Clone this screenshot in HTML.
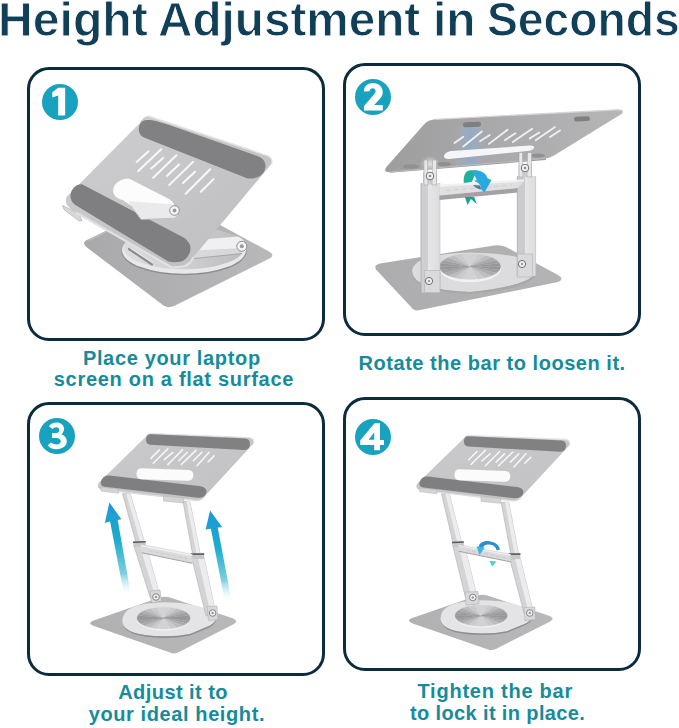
<!DOCTYPE html>
<html><head><meta charset="utf-8">
<style>
html,body{margin:0;padding:0;background:#fff;}
body{width:679px;height:728px;position:relative;overflow:hidden;font-family:"Liberation Sans",sans-serif;}
.title{position:absolute;left:0;top:-4.7px;width:679px;height:50px;white-space:nowrap;font-weight:bold;color:#123f58;font-size:49px;line-height:49px;}
.title span{position:absolute;top:0;transform-origin:0 0;-webkit-text-stroke:0.9px #fff;}
.box{position:absolute;box-sizing:border-box;width:297.9px;height:273.8px;border:3.8px solid #0b2b3e;border-radius:22px;}
.num{position:absolute;width:36px;height:36px;}
.cap{position:absolute;white-space:nowrap;font-weight:bold;color:#168b9c;font-size:20px;line-height:20px;}
.prod{position:absolute;left:0;top:0;}
</style></head><body>
<div class="title" id="title"><span style="left:-2px;transform:scaleX(0.982)">Height</span><span style="left:158.1px;transform:scaleX(0.973)">Adjustment</span><span style="left:433.2px;transform:scaleX(0.976)">in</span><span style="left:486.5px;transform:scaleX(0.944)">Seconds</span></div>

<div class="box" style="left:26.95px;top:67.15px"></div>
<div class="box" style="left:343.1px;top:62.5px"></div>
<div class="box" style="left:27.05px;top:401.9px"></div>
<div class="box" style="left:343.1px;top:397.1px"></div>

<svg class="num" style="left:41.5px;top:84.1px" viewBox="0 0 36 36"><circle cx="18" cy="18" r="18" fill="#18a2bf"/><path d="M16.2,31.5 L23.2,31.5 L23.2,3.8 L16.2,3.8 L10.3,8.2 L10.3,13.5 L16.2,11.4 Z" fill="#fff"/></svg>
<svg class="num" style="left:355.1px;top:78.8px" viewBox="0 0 36 36"><circle cx="18" cy="18" r="18" fill="#18a2bf"/><path d="M9,12.4 L9.3,9.6 C10.5,6 14,3.9 17.9,3.9 C23.5,3.9 27.8,7.8 27.8,13 C27.8,16 26.5,18.3 24.3,20.6 L19.2,26 L27.8,26 L27.8,31.5 L9,31.5 L9,26.9 L18.3,16.3 C19.8,14.6 20.6,13.5 20.6,12 C20.6,10.3 19.4,9.2 17.8,9.2 C16,9.2 14.8,10.4 14.6,12.3 Z" fill="#fff"/></svg>
<svg class="num" style="left:39.4px;top:418.4px" viewBox="0 0 36 36"><circle cx="18" cy="18" r="18" fill="#18a2bf"/><path d="M10,8.2 C11.5,5.8 14.3,4.6 17.6,4.6 C21.8,4.6 25,7.2 25,10.8 C25,13.3 24,15 22.4,16.3 C25.8,17.5 27.8,20 27.8,23.3 C27.8,27.9 23.6,31.2 17.6,31.2 C13.6,31.2 10.4,29.7 8.7,27.2 L12,24.6 C13.4,25.8 15.4,26.4 17.6,26.4 C20.3,26.4 21.8,25.3 21.8,23.3 C21.8,21.2 20,19.9 17.3,19.9 L13,19.9 L13,15 L17.1,15 C19.1,15 20.3,13.9 20.3,12.1 C20.3,10.4 19.1,9.3 17.4,9.3 C15.7,9.3 14.4,10 13.3,11 Z" fill="#fff"/></svg>
<svg class="num" style="left:355.1px;top:418.7px" viewBox="0 0 36 36"><circle cx="18" cy="18" r="18" fill="#18a2bf"/><path fill-rule="evenodd" d="M19.5,4.3 L25,4.3 L25,21 L29,21 L29,26 L25,26 L25,31.2 L19.2,31.2 L19.2,26 L5.25,26 L5.25,21.3 Z M13.6,20.8 L19.2,20.8 L19.2,13.5 Z" fill="#fff"/></svg>

<div class="cap" id="c1a" style="left:82.9px;top:348.3px;letter-spacing:0.66px">Place your laptop</div>
<div class="cap" id="c1b" style="left:53.8px;top:369.4px;letter-spacing:0.70px">screen on a flat surface</div>
<div class="cap" id="c2" style="left:358.6px;top:352.9px;letter-spacing:0.53px">Rotate the bar to loosen it.</div>
<div class="cap" id="c3a" style="left:118.2px;top:682px;letter-spacing:0.44px">Adjust it to</div>
<div class="cap" id="c3b" style="left:88.7px;top:703.6px;letter-spacing:0.6px">your ideal height.</div>
<div class="cap" id="c4a" style="left:417.5px;top:681.2px;letter-spacing:0.76px">Tighten the bar</div>
<div class="cap" id="c4b" style="left:410px;top:703.1px;letter-spacing:0.37px">to lock it in place.</div>

<svg class="prod" width="679" height="728" viewBox="0 0 679 728">
<defs>
<linearGradient id="g1base" x1="0" y1="0" x2="1" y2="0"><stop offset="0" stop-color="#a9a9ab"/><stop offset="1" stop-color="#b8b8ba"/></linearGradient>
<linearGradient id="g1tray" x1="0" y1="0" x2="1" y2="1"><stop offset="0" stop-color="#cfcfd1"/><stop offset="1" stop-color="#bdbdbf"/></linearGradient>
<linearGradient id="g2base" x1="0" y1="0" x2="1" y2="0"><stop offset="0" stop-color="#adadaf"/><stop offset="1" stop-color="#b3b3b5"/></linearGradient>
<linearGradient id="g2tray" x1="0" y1="0" x2="1" y2="0"><stop offset="0" stop-color="#9e9e9f"/><stop offset="0.5" stop-color="#aaaaac"/><stop offset="1" stop-color="#b6b6b7"/></linearGradient>
<radialGradient id="g2glow"><stop offset="0" stop-color="#ececee" stop-opacity="0.9"/><stop offset="1" stop-color="#ececee" stop-opacity="0"/></radialGradient>
<radialGradient id="g2disk" cx="0.5" cy="0.5" r="0.6"><stop offset="0" stop-color="#b4b4b6"/><stop offset="1" stop-color="#a2a2a4"/></radialGradient>
<linearGradient id="g2col" x1="0" y1="0" x2="1" y2="0"><stop offset="0" stop-color="#e6e6e8"/><stop offset="1" stop-color="#dcdcde"/></linearGradient>
<linearGradient id="g2blue" x1="0" y1="0" x2="1" y2="0"><stop offset="0" stop-color="#a4b6cc" stop-opacity="0"/><stop offset="0.5" stop-color="#86acd8" stop-opacity="0.65"/><stop offset="1" stop-color="#a4b6cc" stop-opacity="0"/></linearGradient>
<linearGradient id="g3base" x1="0" y1="0" x2="1" y2="0"><stop offset="0" stop-color="#b1b1b3"/><stop offset="1" stop-color="#b8b8ba"/></linearGradient>
<linearGradient id="g3tray" x1="0" y1="0" x2="1" y2="1"><stop offset="0" stop-color="#cacacc"/><stop offset="1" stop-color="#c2c2c4"/></linearGradient>
<radialGradient id="g3disk" cx="0.5" cy="0.5" r="0.6"><stop offset="0" stop-color="#c4c4c6"/><stop offset="1" stop-color="#a8a8aa"/></radialGradient>
<linearGradient id="g3arrow" x1="0" y1="0" x2="0" y2="1"><stop offset="0" stop-color="#1d98d8"/><stop offset="0.4" stop-color="#1eaccb"/><stop offset="0.75" stop-color="#7ccfdf"/><stop offset="1" stop-color="#ffffff" stop-opacity="0"/></linearGradient>
<filter id="fblur" x="-10%" y="-10%" width="120%" height="120%"><feGaussianBlur stdDeviation="0.7"/></filter>
<clipPath id="clipTray2"><path d="M436,119.3 L617,109.8 Q625,109.5 621.5,114 L554,155.5 Q550,158 545,158.5 L390,172 Q383,172.5 386,167.5 L423.5,125 Q428,119.6 436,119.3 Z"/></clipPath>
<linearGradient id="g1disk" x1="0" y1="0" x2="1" y2="0"><stop offset="0" stop-color="#dcdcde"/><stop offset="0.5" stop-color="#d0d0d2"/><stop offset="1" stop-color="#bcbcbe"/></linearGradient>
</defs>
<g id="img1">
<path d="M88,239.5 L168,201 Q172,199 176,201 L269,251.5 Q275.5,255 269.5,258.5 L174,306 Q168.5,308.5 163.5,305.5 L87,247.5 Q80.5,242.5 88,239.5 Z" fill="url(#g1base)"/>
<path d="M89,240.5 L120,225" stroke="#c4c4c6" stroke-width="1"/>
<ellipse cx="184" cy="251.3" rx="62.5" ry="24" fill="#8e8e90"/>
<ellipse cx="184" cy="250.2" rx="62" ry="23.5" fill="#e8e8ea"/>
<ellipse cx="184" cy="248" rx="60" ry="21.3" fill="url(#g1disk)"/>
<path d="M129,249 L152,264.5" stroke="#8c8c8e" stroke-width="2.2" stroke-linecap="round"/>
<path d="M130,248 L153,263" stroke="#f2f2f2" stroke-width="0.8"/>
<path d="M196,240 L238,236.5 Q246,240.5 246.5,247 Q246,253 240.5,253.5 L194,258.5 Z" fill="#f0f0f2"/>
<path d="M195,250.5 L243,248 L242,253.5 L194,258.5 Z" fill="#d8d8da"/>
<path d="M194,258.5 L242,253.5" stroke="#9a9a9c" stroke-width="0.8"/>
<circle cx="241.8" cy="246.3" r="5" fill="#f6f6f6" stroke="#8e8e90" stroke-width="1"/>
<circle cx="241.8" cy="246.3" r="2" fill="#9a9a9c"/>
<path d="M62.5,205.5 L79,213.5 L82,220.5 L79,221 L64,209.5 Z" fill="#d8d8da" stroke="#9a9a9c" stroke-width="0.5"/>
<path d="M148,116 L266.5,155.3 C270.5,156.5 272.5,159.5 271.8,163.5 L193.5,257 C191.5,262 188,265.5 183,266.5 L172,267.5 L76,212.5 C68,208 64,203 66.5,197 L139.4,123.6 C141.5,119.5 144.5,116.5 148,116 Z" fill="url(#g1tray)"/>
<path d="M148,116 L266.5,155.3 C270.5,156.5 272.5,159.5 271.8,163.5" fill="none" stroke="#e4e4e6" stroke-width="1.4"/>
<path d="M76,212.5 L172,267.5 L183,266.5 C188,265.5 191.5,262 193.5,257" fill="none" stroke="#e0e0e2" stroke-width="2.2"/>
<path d="M146.5,120 C152,119.5 157,121 170,125.2 L258,156.3 C263,158 265.5,162 265.5,166 C265.5,171 262,176 256.7,177.5 C253,178.5 250,178.8 247,178.3 L144.7,137.7 C141,136.5 138.5,133 138.8,128.5 C139.2,123.5 142,120.2 146.5,120 Z" fill="#818183"/>
<path d="M82,184.3 L183.1,237.3 C187,239.5 190.5,244 190.5,248 C190.5,254 186,260.5 180.9,261.5 C177,262.5 172,262.5 168.4,261.5 L76.2,205.6 C72.5,203.5 70.3,199.5 70.5,195.6 C70.8,190.5 74,186.5 78,184.8 C79.3,184.3 80.8,184.1 82,184.3 Z" fill="#7f7f81"/>
<path d="M119.1,181.2 C123,179 126,178.6 130,179 L168,198.5 C172,200.5 174,203 174.5,206 L173,210 L130,205 L122.7,200 C117,198.5 114,196 113.2,191.2 C113,187 115.5,183 119.1,181.2 Z" fill="#fcfcfc"/>
<path d="M128.6,201.2 L171,204.2 C175,206 178,208 178.5,211 C178.5,215 176,218 172,218.3 L141,219.5 L131,206 Z" fill="#eaeaec"/>
<path d="M131,206 L141,219.5 L172,218.3" fill="none" stroke="#b8b8ba" stroke-width="0.7"/>
<circle cx="174.5" cy="210.5" r="4.8" fill="#f6f6f6" stroke="#8e8e90" stroke-width="1"/>
<circle cx="174.5" cy="210.5" r="1.9" fill="#9a9a9c"/>
<g stroke="#f8f8f8" stroke-width="2" stroke-linecap="round">
<line x1="136.6" y1="161.9" x2="148.6" y2="151.3"/>
<line x1="138" y1="171.2" x2="161.2" y2="149.3"/>
<line x1="151.2" y1="168.5" x2="163.1" y2="157.9"/>
<line x1="153.2" y1="177.8" x2="176.4" y2="155.2"/>
<line x1="167.1" y1="175.8" x2="179" y2="164.5"/>
<line x1="169.1" y1="185.1" x2="193" y2="161.9"/>
<line x1="183" y1="183.1" x2="195" y2="171.8"/>
<line x1="185.7" y1="193.7" x2="210.2" y2="169.2"/>
<line x1="200.9" y1="191.7" x2="213.5" y2="179.1"/>
</g>
</g>
<g id="img2">
<path d="M380,263.5 L494,245.5 Q501,244.5 506,247 L558,275 Q565,279 558,282 L420,310 Q414,311.5 411,307 L376,269.5 Q373.5,265 380,263.5 Z" fill="url(#g2base)"/>
<path d="M412,272 Q412,254 470,252.5 Q528,254 535,266 L536,272 Q530,286 470,292 Q414,290 412,272 Z" fill="#dcdcde"/>
<path d="M412,272 Q414,290 470,292 Q530,286 536,272 L536,274.5 Q530,289 470,294 Q414,292 412,274.5 Z" fill="#a8a8aa"/>
<ellipse cx="470" cy="268.4" rx="31" ry="13.8" fill="#f2f2f4"/>
<g filter="url(#fblur)">
<path d="M470.0,266.6 L500.50,266.60 A30.5,12.8 0 0 1 499.46,269.91 Z" fill="#97979b" stroke="#97979b" stroke-width="0.3"/>
<path d="M470.0,266.6 L499.46,269.91 A30.5,12.8 0 0 1 496.41,273.00 Z" fill="#9f9fa2" stroke="#9f9fa2" stroke-width="0.3"/>
<path d="M470.0,266.6 L496.41,273.00 A30.5,12.8 0 0 1 491.57,275.65 Z" fill="#acacb0" stroke="#acacb0" stroke-width="0.3"/>
<path d="M470.0,266.6 L491.57,275.65 A30.5,12.8 0 0 1 485.25,277.69 Z" fill="#bdbdbf" stroke="#bdbdbf" stroke-width="0.3"/>
<path d="M470.0,266.6 L485.25,277.69 A30.5,12.8 0 0 1 477.89,278.96 Z" fill="#cacacd" stroke="#cacacd" stroke-width="0.3"/>
<path d="M470.0,266.6 L477.89,278.96 A30.5,12.8 0 0 1 470.00,279.40 Z" fill="#d2d2d4" stroke="#d2d2d4" stroke-width="0.3"/>
<path d="M470.0,266.6 L470.00,279.40 A30.5,12.8 0 0 1 462.11,278.96 Z" fill="#d2d2d4" stroke="#d2d2d4" stroke-width="0.3"/>
<path d="M470.0,266.6 L462.11,278.96 A30.5,12.8 0 0 1 454.75,277.69 Z" fill="#cacacd" stroke="#cacacd" stroke-width="0.3"/>
<path d="M470.0,266.6 L454.75,277.69 A30.5,12.8 0 0 1 448.43,275.65 Z" fill="#bdbdbf" stroke="#bdbdbf" stroke-width="0.3"/>
<path d="M470.0,266.6 L448.43,275.65 A30.5,12.8 0 0 1 443.59,273.00 Z" fill="#acacb0" stroke="#acacb0" stroke-width="0.3"/>
<path d="M470.0,266.6 L443.59,273.00 A30.5,12.8 0 0 1 440.54,269.91 Z" fill="#9f9fa2" stroke="#9f9fa2" stroke-width="0.3"/>
<path d="M470.0,266.6 L440.54,269.91 A30.5,12.8 0 0 1 439.50,266.60 Z" fill="#97979b" stroke="#97979b" stroke-width="0.3"/>
<path d="M470.0,266.6 L439.50,266.60 A30.5,12.8 0 0 1 440.54,263.29 Z" fill="#97979b" stroke="#97979b" stroke-width="0.3"/>
<path d="M470.0,266.6 L440.54,263.29 A30.5,12.8 0 0 1 443.59,260.20 Z" fill="#9f9fa2" stroke="#9f9fa2" stroke-width="0.3"/>
<path d="M470.0,266.6 L443.59,260.20 A30.5,12.8 0 0 1 448.43,257.55 Z" fill="#acacb0" stroke="#acacb0" stroke-width="0.3"/>
<path d="M470.0,266.6 L448.43,257.55 A30.5,12.8 0 0 1 454.75,255.51 Z" fill="#bdbdbf" stroke="#bdbdbf" stroke-width="0.3"/>
<path d="M470.0,266.6 L454.75,255.51 A30.5,12.8 0 0 1 462.11,254.24 Z" fill="#cacacd" stroke="#cacacd" stroke-width="0.3"/>
<path d="M470.0,266.6 L462.11,254.24 A30.5,12.8 0 0 1 470.00,253.80 Z" fill="#d2d2d4" stroke="#d2d2d4" stroke-width="0.3"/>
<path d="M470.0,266.6 L470.00,253.80 A30.5,12.8 0 0 1 477.89,254.24 Z" fill="#d2d2d4" stroke="#d2d2d4" stroke-width="0.3"/>
<path d="M470.0,266.6 L477.89,254.24 A30.5,12.8 0 0 1 485.25,255.51 Z" fill="#cacacd" stroke="#cacacd" stroke-width="0.3"/>
<path d="M470.0,266.6 L485.25,255.51 A30.5,12.8 0 0 1 491.57,257.55 Z" fill="#bdbdbf" stroke="#bdbdbf" stroke-width="0.3"/>
<path d="M470.0,266.6 L491.57,257.55 A30.5,12.8 0 0 1 496.41,260.20 Z" fill="#acacb0" stroke="#acacb0" stroke-width="0.3"/>
<path d="M470.0,266.6 L496.41,260.20 A30.5,12.8 0 0 1 499.46,263.29 Z" fill="#9f9fa2" stroke="#9f9fa2" stroke-width="0.3"/>
<path d="M470.0,266.6 L499.46,263.29 A30.5,12.8 0 0 1 500.50,266.60 Z" fill="#97979b" stroke="#97979b" stroke-width="0.3"/>
</g>
<path d="M421,183 L440,183 L440,292.5 L421,292.5 Z" fill="#cfcfd1"/>
<path d="M428,183 L440,183 L440,292.5 L428,292.5 Z" fill="url(#g2col)"/>
<path d="M421,183 L421,292.5" stroke="#a8a8aa" stroke-width="0.8"/>
<path d="M440,183 L440,292.5" stroke="#c0c0c2" stroke-width="0.6"/>
<path d="M517.3,176 L535.6,176 L535.6,276 L517.3,276 Z" fill="#cbcbcd"/>
<path d="M525,176 L535.6,176 L535.6,276 L525,276 Z" fill="url(#g2col)"/>
<path d="M517.3,176 L517.3,276" stroke="#a8a8aa" stroke-width="0.8"/>
<path d="M535.6,176 L535.6,276" stroke="#c0c0c2" stroke-width="0.6"/>
<path d="M439.5,184.5 L524,179.5 L524,181.5 L439.5,186.7 Z" fill="#f2f2f4"/>
<path d="M439.5,186.7 L524,181.5 L517.3,188 L439.5,195.5 Z" fill="#e0e0e2"/>
<path d="M439.5,195.5 L517.3,188 L517.3,192.5 L439.5,200 Z" fill="#a2a2a4"/>
<path d="M446,190.5 L512,185" stroke="#bcbcbe" stroke-width="0.5" stroke-dasharray="5 3"/>
<path d="M424.5,270.5 L440,270.5 L440,292.5 L424.5,292.5 Z" fill="#dadadc" stroke="#a8a8aa" stroke-width="0.5"/>
<circle cx="429" cy="281" r="3.6" fill="#f2f2f2" stroke="#6e6e70" stroke-width="1"/>
<circle cx="429" cy="281" r="1.2" fill="#9a9a9c"/>
<path d="M517.3,254 L532.7,254 L532.7,277 L517.3,277 Z" fill="#dadadc" stroke="#a8a8aa" stroke-width="0.5"/>
<circle cx="522" cy="264" r="3.6" fill="#f2f2f2" stroke="#6e6e70" stroke-width="1"/>
<circle cx="522" cy="264" r="1.2" fill="#9a9a9c"/>
<path d="M386,168 L545,155 L546,160 L390,172.8 Z" fill="#9a9a9c"/>
<path d="M436,119.3 L617,109.8 Q625,109.5 621.5,114 L554,155.5 Q550,158 545,158.5 L390,172 Q383,172.5 386,167.5 L423.5,125 Q428,119.6 436,119.3 Z" fill="url(#g2tray)"/>
<g clip-path="url(#clipTray2)"><path d="M454,126 L484,124 L486,168 L456,170 Z" fill="url(#g2blue)"/>
<ellipse cx="430" cy="164" rx="10" ry="8" fill="url(#g2glow)"/></g>
<path d="M436,119.3 L617,109.8 Q625,109.5 621.5,114" fill="none" stroke="#d4d4d6" stroke-width="1.3"/>
<path d="M390,172 L545,158.5" fill="none" stroke="#bdbdbf" stroke-width="1"/>
<rect x="463" y="122" width="18" height="5" rx="2.5" fill="#7f7f81" transform="rotate(-3 472 124.5)"/>
<rect x="574" y="116.5" width="16" height="4.8" rx="2.4" fill="#7f7f81" transform="rotate(-3 582 119)"/>
<ellipse cx="411" cy="166.5" rx="8" ry="2.3" fill="#909092"/>
<ellipse cx="444" cy="164" rx="7" ry="2" fill="#909092"/>
<ellipse cx="538" cy="155.5" rx="7" ry="2" fill="#909092"/>
<path d="M451,150.9 L530,145.6 Q535,146 534,148 Q533,150.5 527,151 L449,158.9 Q443.5,159 444,156 Q445,152 451,150.9 Z" fill="#f6f6f8"/>
<g stroke="#f0f0f2" stroke-width="1.8" stroke-linecap="round">
<line x1="454.4" y1="143" x2="463.3" y2="136.8"/>
<line x1="463.3" y1="146.5" x2="481.8" y2="131.5"/>
<line x1="480" y1="141.2" x2="489.8" y2="135"/>
<line x1="488.9" y1="143.9" x2="507.5" y2="129.7"/>
<line x1="504.8" y1="140.3" x2="515.4" y2="133.3"/>
<line x1="512.8" y1="142.1" x2="532.2" y2="128.8"/>
<line x1="529.6" y1="138.6" x2="539.3" y2="132.4"/>
<line x1="535.7" y1="140.3" x2="555" y2="127.1"/>
<line x1="550" y1="137" x2="560" y2="130.5"/>
</g>
<path d="M423,172 L437,172 L437,184.5 L423,184.5 Z" fill="#d0d0d2"/>
<path d="M424,160 L427.5,160 L428,185 L424,185 Z" fill="#e8e8ea" stroke="#9a9a9c" stroke-width="0.5"/>
<path d="M432.5,160 L436.5,160 L436.5,185 L432,185 Z" fill="#e8e8ea" stroke="#9a9a9c" stroke-width="0.5"/>
<circle cx="430" cy="176" r="3.8" fill="#f4f4f4" stroke="#707072" stroke-width="1"/>
<circle cx="430" cy="176" r="1.3" fill="#8a8a8c"/>
<path d="M518.5,165 L532,165 L532,177 L518.5,177 Z" fill="#d0d0d2"/>
<path d="M519,152.5 L522.5,152.5 L523,177 L519,177 Z" fill="#e8e8ea" stroke="#9a9a9c" stroke-width="0.5"/>
<path d="M527.5,152.5 L531.5,152.5 L531.5,177 L527,177 Z" fill="#e8e8ea" stroke="#9a9a9c" stroke-width="0.5"/>
<circle cx="525" cy="168" r="3.8" fill="#f4f4f4" stroke="#707072" stroke-width="1"/>
<circle cx="525" cy="168" r="1.3" fill="#8a8a8c"/>
<path d="M464.9,197 L467.6,205 L470.9,199 L476.9,204.3 L474.2,197 Z" fill="#17a58f"/>
<path d="M463.8,183 C463,176 465.5,171.5 469,170.6 C471.5,170 474,170.2 476,170.6 L474.5,177 L471.6,182 Z" fill="#1bb39b"/>
<path d="M474,170.2 C479.5,170 483.5,172 486,175 L487.5,178.3 L491.5,179.9 L484.5,192.5 L479.5,188 L481,186.5 C479.5,183.5 477,182 474.9,181.5 L473,175.6 Z" fill="#2aa9e0"/>
<path d="M472.9,180.2 L474.5,175.6 L476.9,180.2 Z" fill="#ffffff"/>
<path d="M472.9,185 L480.2,185.4 L480.5,189.5 L476,187.8 Z" fill="#2c4c66" opacity="0.7"/>
</g>
<g id="img3">
<g id="base3">
<path d="M95,620 L160,597.5 Q165,596 170,597.5 L232,618 Q240,621 233,624.5 L179,652 Q174.5,654.5 170,652.5 L94,626 Q86,623 95,620 Z" fill="url(#g3base)"/>
<path d="M122.3,621 Q122.3,603 163.6,602.3 Q200,603 210,612 L215.5,619 Q215,623 209,626 L190,634 Q178,636.5 163.6,636.3 Q122.3,636 122.3,621 Z" fill="#e4e4e6"/>
<path d="M122.5,622.5 Q124,635.5 163.6,636.3 Q178,636.5 190,634 L209,626 Q214,623.5 215.5,620 L215.5,621.5 Q214,625 209.5,627.5 L190,635.5 Q178,638 163.6,638 Q123,637 122.5,622.5 Z" fill="#8e8e90"/>
<ellipse cx="163.6" cy="619.3" rx="26.8" ry="11.3" fill="#f0f0f2"/>
<g filter="url(#fblur)">
<path d="M163.6,618.1 L190.10,618.10 A26.5,10.8 0 0 1 189.20,620.90 Z" fill="#97979b" stroke="#97979b" stroke-width="0.3"/>
<path d="M163.6,618.1 L189.20,620.90 A26.5,10.8 0 0 1 186.55,623.50 Z" fill="#9f9fa2" stroke="#9f9fa2" stroke-width="0.3"/>
<path d="M163.6,618.1 L186.55,623.50 A26.5,10.8 0 0 1 182.34,625.74 Z" fill="#acacb0" stroke="#acacb0" stroke-width="0.3"/>
<path d="M163.6,618.1 L182.34,625.74 A26.5,10.8 0 0 1 176.85,627.45 Z" fill="#bdbdbf" stroke="#bdbdbf" stroke-width="0.3"/>
<path d="M163.6,618.1 L176.85,627.45 A26.5,10.8 0 0 1 170.46,628.53 Z" fill="#cacacd" stroke="#cacacd" stroke-width="0.3"/>
<path d="M163.6,618.1 L170.46,628.53 A26.5,10.8 0 0 1 163.60,628.90 Z" fill="#d2d2d4" stroke="#d2d2d4" stroke-width="0.3"/>
<path d="M163.6,618.1 L163.60,628.90 A26.5,10.8 0 0 1 156.74,628.53 Z" fill="#d2d2d4" stroke="#d2d2d4" stroke-width="0.3"/>
<path d="M163.6,618.1 L156.74,628.53 A26.5,10.8 0 0 1 150.35,627.45 Z" fill="#cacacd" stroke="#cacacd" stroke-width="0.3"/>
<path d="M163.6,618.1 L150.35,627.45 A26.5,10.8 0 0 1 144.86,625.74 Z" fill="#bdbdbf" stroke="#bdbdbf" stroke-width="0.3"/>
<path d="M163.6,618.1 L144.86,625.74 A26.5,10.8 0 0 1 140.65,623.50 Z" fill="#acacb0" stroke="#acacb0" stroke-width="0.3"/>
<path d="M163.6,618.1 L140.65,623.50 A26.5,10.8 0 0 1 138.00,620.90 Z" fill="#9f9fa2" stroke="#9f9fa2" stroke-width="0.3"/>
<path d="M163.6,618.1 L138.00,620.90 A26.5,10.8 0 0 1 137.10,618.10 Z" fill="#97979b" stroke="#97979b" stroke-width="0.3"/>
<path d="M163.6,618.1 L137.10,618.10 A26.5,10.8 0 0 1 138.00,615.30 Z" fill="#97979b" stroke="#97979b" stroke-width="0.3"/>
<path d="M163.6,618.1 L138.00,615.30 A26.5,10.8 0 0 1 140.65,612.70 Z" fill="#9f9fa2" stroke="#9f9fa2" stroke-width="0.3"/>
<path d="M163.6,618.1 L140.65,612.70 A26.5,10.8 0 0 1 144.86,610.46 Z" fill="#acacb0" stroke="#acacb0" stroke-width="0.3"/>
<path d="M163.6,618.1 L144.86,610.46 A26.5,10.8 0 0 1 150.35,608.75 Z" fill="#bdbdbf" stroke="#bdbdbf" stroke-width="0.3"/>
<path d="M163.6,618.1 L150.35,608.75 A26.5,10.8 0 0 1 156.74,607.67 Z" fill="#cacacd" stroke="#cacacd" stroke-width="0.3"/>
<path d="M163.6,618.1 L156.74,607.67 A26.5,10.8 0 0 1 163.60,607.30 Z" fill="#d2d2d4" stroke="#d2d2d4" stroke-width="0.3"/>
<path d="M163.6,618.1 L163.60,607.30 A26.5,10.8 0 0 1 170.46,607.67 Z" fill="#d2d2d4" stroke="#d2d2d4" stroke-width="0.3"/>
<path d="M163.6,618.1 L170.46,607.67 A26.5,10.8 0 0 1 176.85,608.75 Z" fill="#cacacd" stroke="#cacacd" stroke-width="0.3"/>
<path d="M163.6,618.1 L176.85,608.75 A26.5,10.8 0 0 1 182.34,610.46 Z" fill="#bdbdbf" stroke="#bdbdbf" stroke-width="0.3"/>
<path d="M163.6,618.1 L182.34,610.46 A26.5,10.8 0 0 1 186.55,612.70 Z" fill="#acacb0" stroke="#acacb0" stroke-width="0.3"/>
<path d="M163.6,618.1 L186.55,612.70 A26.5,10.8 0 0 1 189.20,615.30 Z" fill="#9f9fa2" stroke="#9f9fa2" stroke-width="0.3"/>
<path d="M163.6,618.1 L189.20,615.30 A26.5,10.8 0 0 1 190.10,618.10 Z" fill="#97979b" stroke="#97979b" stroke-width="0.3"/>
</g>
</g>
<path d="M122.5,493.7 L130.2,493.7 L144.6,542.7 L136.0,542.7 Z" fill="#d4d4d6" stroke="#aeaeb0" stroke-width="0.6"/>
<path d="M126.3,493.7 L130.2,493.7 L144.6,542.7 L140.3,542.7 Z" fill="#ececee"/>
<path d="M134.0,546.0 L146.0,545.5 L160.0,596.0 L150.5,598.5 Z" fill="#d4d4d6" stroke="#aeaeb0" stroke-width="0.6"/>
<path d="M140.0,545.8 L146.0,545.5 L160.0,596.0 L155.2,597.2 Z" fill="#ececee"/>
<path d="M133.0,541.5 L145.6,541.0 L146.0,546.0 L133.5,547.0 Z" fill="#c8c8ca"/>
<path d="M133.0,541.5 L145.6,541.0 L145.7,542.4 L133.1,543.0 Z" fill="#58585a"/>
<path d="M150.0,591.0 L160.0,590.0 L161.5,601.0 L151.5,603.0 Z" fill="#d8d8da" stroke="#a8a8aa" stroke-width="0.5"/>
<circle cx="156" cy="597" r="3.3" fill="#f2f2f2" stroke="#7a7a7c" stroke-width="0.9"/>
<circle cx="156" cy="597" r="1.2" fill="#9a9a9c"/>
<path d="M183.0,501.3 L189.8,501.3 L200.4,555.0 L192.7,555.0 Z" fill="#d4d4d6" stroke="#aeaeb0" stroke-width="0.6"/>
<path d="M186.4,501.3 L189.8,501.3 L200.4,555.0 L196.6,555.0 Z" fill="#ececee"/>
<path d="M191.7,558.0 L204.2,558.0 L215.8,614.0 L206.0,615.8 Z" fill="#d4d4d6" stroke="#aeaeb0" stroke-width="0.6"/>
<path d="M197.9,558.0 L204.2,558.0 L215.8,614.0 L210.9,614.9 Z" fill="#ececee"/>
<path d="M190.8,553.3 L204.2,553.3 L204.2,559.0 L190.8,559.0 Z" fill="#c8c8ca"/>
<path d="M190.8,553.3 L204.2,553.3 L204.2,554.9 L190.8,554.9 Z" fill="#58585a"/>
<path d="M207.0,606.5 L217.0,606.0 L218.0,619.5 L208.5,620.5 Z" fill="#d8d8da" stroke="#a8a8aa" stroke-width="0.5"/>
<circle cx="212.6" cy="613" r="3.3" fill="#f2f2f2" stroke="#7a7a7c" stroke-width="0.9"/>
<circle cx="212.6" cy="613" r="1.2" fill="#9a9a9c"/>
<path d="M140.5,544.3 L192.4,554.2 L192.4,556.9 L140.9,546.8 Z" fill="#f0f0f2" stroke="#b8b8ba" stroke-width="0.4"/>
<path d="M140.9,546.8 L192.4,556.9 L192.4,563.3 L141.8,552.8 Z" fill="#dadadc"/>
<path d="M141.8,552.8 L192.4,563.3" stroke="#9a9a9c" stroke-width="0.9"/>
<path d="M148.9,550.9 L187.3,558.6" stroke="#bcbcbe" stroke-width="0.5" stroke-dasharray="4 2"/>
<g id="tray3">
<path d="M151,433.5 L249,437.5 Q255,438.5 253.5,443.5 L205,496 Q202,500.5 196.5,500.5 L102,489.5 Q96,488.5 98.5,483 L144.8,437.7 Q147.5,433.2 151,433.5 Z" fill="url(#g3tray)"/>
<path d="M102,489.5 L196.5,500.5 Q202,500.5 205,496" fill="none" stroke="#dcdcde" stroke-width="1.4"/>
<path d="M151,433.5 L249,437.5 Q255,438.5 253.5,443.5" fill="none" stroke="#e2e2e4" stroke-width="1.2"/>
<path d="M100.3,487 L118,489 L118.5,493.3 L101,491 Z" fill="#d4d4d6" stroke="#b0b0b2" stroke-width="0.5"/>
<path d="M163.5,496 L183.4,498 L183.4,503 L163.5,501 Z" fill="#d4d4d6" stroke="#b0b0b2" stroke-width="0.5"/>
<path d="M151,434.3 L245,438.6 Q250,439 250,444 Q249.5,450.3 244,450.1 L150.5,444.8 Q146,444.3 146,439.5 Q146.5,434 151,434.3 Z" fill="#818183"/>
<path d="M109.6,475.6 L200.5,486.3 Q206.5,487.5 206.6,491.5 Q206,498 198,497.8 L104.7,486.8 Q100,486 101,481.5 Q103,475 109.6,475.6 Z" fill="#7f7f81"/>
<path d="M141.5,468.2 L188.5,470 Q193.5,470.5 193.4,475.5 Q193,481 187,480.8 L141,479.3 Q136.3,478.8 136.5,473.5 Q137,468 141.5,468.2 Z" fill="#fbfbfb"/>
<g stroke="#f6f6f6" stroke-width="1.6" stroke-linecap="round">
<line x1="150.9" y1="458.4" x2="159.4" y2="449.9"/>
<line x1="153.3" y1="463.2" x2="167.9" y2="448.7"/>
<line x1="164.3" y1="459.6" x2="172.8" y2="452.3"/>
<line x1="167.9" y1="464.5" x2="182.5" y2="449.9"/>
<line x1="178.8" y1="460.8" x2="187.3" y2="452.3"/>
<line x1="181.3" y1="464.5" x2="195.9" y2="450.4"/>
<line x1="193.4" y1="460.8" x2="201.9" y2="452.3"/>
<line x1="197" y1="465.7" x2="209.2" y2="452.3"/>
<line x1="208" y1="462" x2="214.1" y2="455.9"/>
</g>
</g>
<path d="M109.4,502.6 L121.4,519.2 L117.7,520 L131.3,597 L124.5,597 L110.1,521.4 L104.8,523 Z" fill="url(#g3arrow)"/>
<path d="M210.1,510.6 L222.2,527.2 L217.7,527.6 L232,603 L225.2,603 L210.9,528.7 L205.6,529.5 Z" fill="url(#g3arrow)"/>
</g>
<use href="#base3" transform="matrix(0.983 0 0 0.976 320.3 12.4)"/>
<path d="M441.5,493.7 L449.2,493.7 L461.7,542.7 L453.0,542.7 Z" fill="#d4d4d6" stroke="#aeaeb0" stroke-width="0.6"/>
<path d="M445.4,493.7 L449.2,493.7 L461.7,542.7 L457.4,542.7 Z" fill="#ececee"/>
<path d="M453.0,546.5 L464.6,546.0 L477.1,596.5 L465.6,598.0 Z" fill="#d4d4d6" stroke="#aeaeb0" stroke-width="0.6"/>
<path d="M458.8,546.2 L464.6,546.0 L477.1,596.5 L471.4,597.2 Z" fill="#ececee"/>
<path d="M452.0,541.7 L463.7,541.2 L464.0,546.5 L452.5,547.0 Z" fill="#c8c8ca"/>
<path d="M452.0,541.7 L463.7,541.2 L463.8,542.7 L452.1,543.2 Z" fill="#58585a"/>
<path d="M465.0,592.2 L478.0,591.5 L479.0,604.0 L466.0,605.0 Z" fill="#d8d8da" stroke="#a8a8aa" stroke-width="0.5"/>
<circle cx="472.8" cy="597.5" r="3.3" fill="#f2f2f2" stroke="#7a7a7c" stroke-width="0.9"/>
<circle cx="472.8" cy="597.5" r="1.2" fill="#9a9a9c"/>
<path d="M501.2,502.3 L508.8,502.3 L518.5,554.2 L510.8,554.2 Z" fill="#d4d4d6" stroke="#aeaeb0" stroke-width="0.6"/>
<path d="M505.0,502.3 L508.8,502.3 L518.5,554.2 L514.6,554.2 Z" fill="#ececee"/>
<path d="M509.8,559.0 L520.4,559.0 L533.8,613.8 L524.2,613.8 Z" fill="#d4d4d6" stroke="#aeaeb0" stroke-width="0.6"/>
<path d="M515.1,559.0 L520.4,559.0 L533.8,613.8 L529.0,613.8 Z" fill="#ececee"/>
<path d="M508.8,553.3 L520.4,553.3 L520.4,559.0 L508.8,559.0 Z" fill="#c8c8ca"/>
<path d="M508.8,553.3 L520.4,553.3 L520.4,554.9 L508.8,554.9 Z" fill="#58585a"/>
<path d="M524.0,607.5 L534.8,607.0 L535.5,619.6 L525.0,620.5 Z" fill="#d8d8da" stroke="#a8a8aa" stroke-width="0.5"/>
<circle cx="529.8" cy="613" r="3.3" fill="#f2f2f2" stroke="#7a7a7c" stroke-width="0.9"/>
<circle cx="529.8" cy="613" r="1.2" fill="#9a9a9c"/>
<path d="M457.9,544.6 L510.8,554.2 L510.8,556.5 L458.2,546.6 Z" fill="#f0f0f2" stroke="#b8b8ba" stroke-width="0.4"/>
<path d="M458.2,546.6 L510.8,556.5 L510.8,561.9 L458.8,551.3 Z" fill="#dadadc"/>
<path d="M458.8,551.3 L510.8,561.9" stroke="#9a9a9c" stroke-width="0.9"/>
<path d="M466.3,550.1 L505.6,557.8" stroke="#bcbcbe" stroke-width="0.5" stroke-dasharray="4 2"/>
<use href="#tray3" transform="matrix(0.983 0 0 0.976 320.3 12.4)"/>
<g id="arrow4">
<path d="M478.6,547.5 C479,542.5 484,540.5 489.5,541.2 C495,542 499.5,545 499.8,549.8 L496.6,550.3 C496,547 493,544.8 489.2,544.5 C485.5,544.3 483,546 482.5,548.5 Z" fill="#2a8fd0"/>
<path d="M476.5,546.2 L484.8,547.4 L479.5,555 Z" fill="#3bb6e6"/>
<path d="M489.5,560.8 L496.5,561.5 L492,566.5 Z" fill="#4ccfc6"/>
</g>

</svg>
</body></html>
